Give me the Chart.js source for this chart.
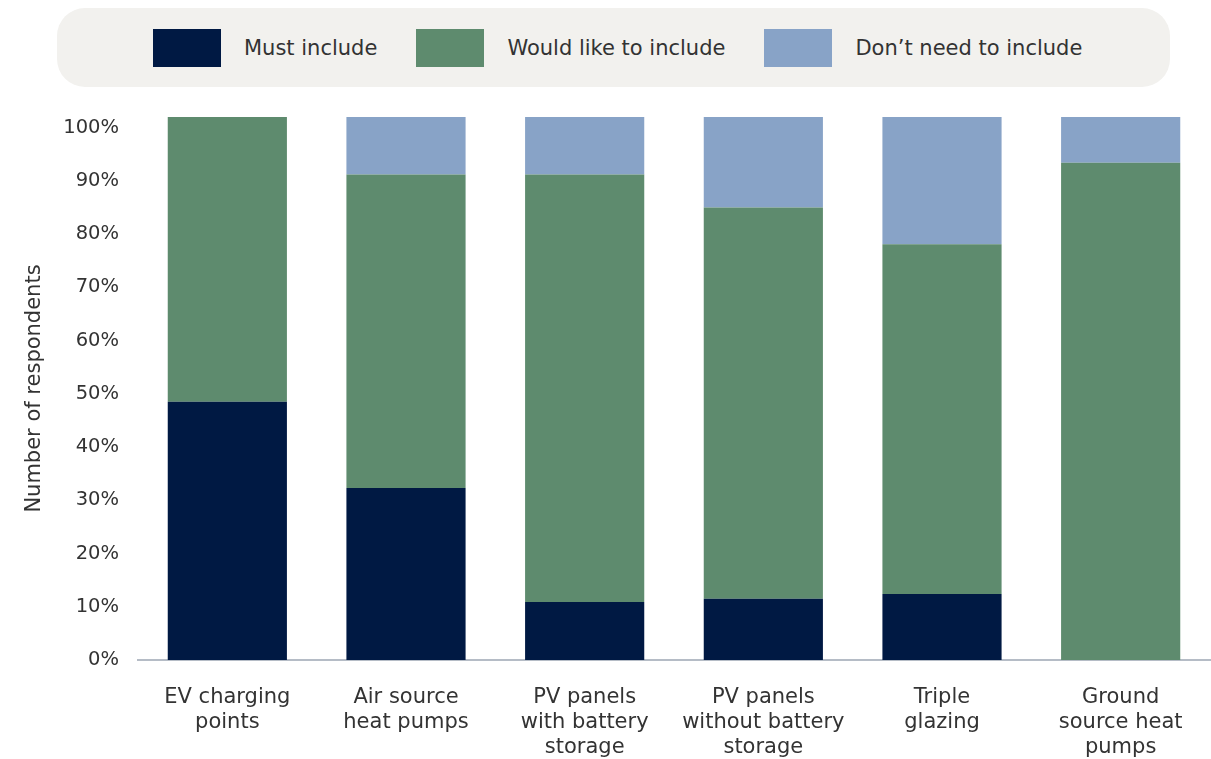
<!DOCTYPE html>
<html>
<head>
<meta charset="utf-8">
<script src="https://cdn.jsdelivr.net/npm/chart.js@4.4.1/dist/chart.umd.min.js"></script>
<style>
  html, body { margin: 0; padding: 0; background: #fff; }
  #wrap { position: relative; width: 1211px; height: 759px; }
  #chart { position: absolute; left: 0; top: 0; }
  #legend {
    position: absolute; left: 57px; top: 8px; width: 1113px; height: 79px;
    background: #f2f1ee; border-radius: 28px;
    display: flex; align-items: center; box-sizing: border-box; padding-left: 96px;
    font-family: "DejaVu Sans", sans-serif; font-size: 21px; color: #333;
  }
  #legend .item { display: flex; align-items: center; margin-right: 39px; }
  #legend .box { width: 68px; height: 38px; margin-right: 23px; }
</style>
</head>
<body>
<div id="wrap">
  <canvas id="chart" width="1211" height="759"></canvas>
  <div id="legend"></div>
</div>
<script>
const categories = [
  ["EV charging", "points"],
  ["Air source", "heat pumps"],
  ["PV panels", "with battery", "storage"],
  ["PV panels", "without battery", "storage"],
  ["Triple", "glazing"],
  ["Ground", "source heat", "pumps"],
];
const mustInclude = [48.5, 32.3, 10.9, 11.5, 12.4, 0];
const wouldLike = [53.5, 58.9, 80.3, 73.5, 65.7, 93.4];
const dontNeed = [0, 10.8, 10.8, 17.0, 23.9, 8.6];

const seriesNames = ["Must include", "Would like to include", "Don\u2019t need to include"];
const seriesColors = ["#001943", "#5e8b6e", "#88a3c7"];

const family = "'DejaVu Sans', sans-serif";
const textColor = "#333333";

const chart = new Chart(document.getElementById("chart"), {
  type: "bar",
  data: {
    labels: categories,
    datasets: [mustInclude, wouldLike, dontNeed].map((values, i) => ({
      label: seriesNames[i],
      data: values,
      backgroundColor: seriesColors[i],
      borderWidth: 0,
      barPercentage: 0.667,
      categoryPercentage: 1,
    })),
  },
  options: {
    responsive: false,
    animation: false,
    layout: { padding: { top: 117, right: 1, left: 0, bottom: 0 } },
    plugins: {
      legend: { display: false },
      tooltip: { enabled: false },
    },
    scales: {
      x: {
        stacked: true,
        grid: { display: false, drawTicks: false },
        border: { display: true, color: "#b5bcc6", width: 2 },
        ticks: {
          font: { family, size: 21, lineHeight: 1.19 },
          color: textColor,
          padding: 25,
          maxRotation: 0,
        },
        afterFit(scale) { scale.height = 99; },
      },
      y: {
        stacked: true,
        min: 0,
        max: 102,
        grid: { display: false, drawTicks: false },
        border: { display: false },
        ticks: {
          stepSize: 10,
          includeBounds: false,
          font: { family, size: 19.5 },
          color: textColor,
          padding: 19,
          callback: (v) => v + "%",
        },
        title: {
          display: true,
          text: "Number of respondents",
          font: { family, size: 21 },
          color: textColor,
          padding: { top: 22, bottom: 0 },
        },
        afterFit(scale) { scale.width = 138; },
      },
    },
  },
});

// legend built from the chart's datasets
const legendEl = document.getElementById("legend");
chart.data.datasets.forEach((ds) => {
  const item = document.createElement("div");
  item.className = "item";
  const box = document.createElement("span");
  box.className = "box";
  box.style.background = ds.backgroundColor;
  const label = document.createElement("span");
  label.textContent = ds.label;
  item.appendChild(box);
  item.appendChild(label);
  legendEl.appendChild(item);
});
</script>
</body>
</html>
